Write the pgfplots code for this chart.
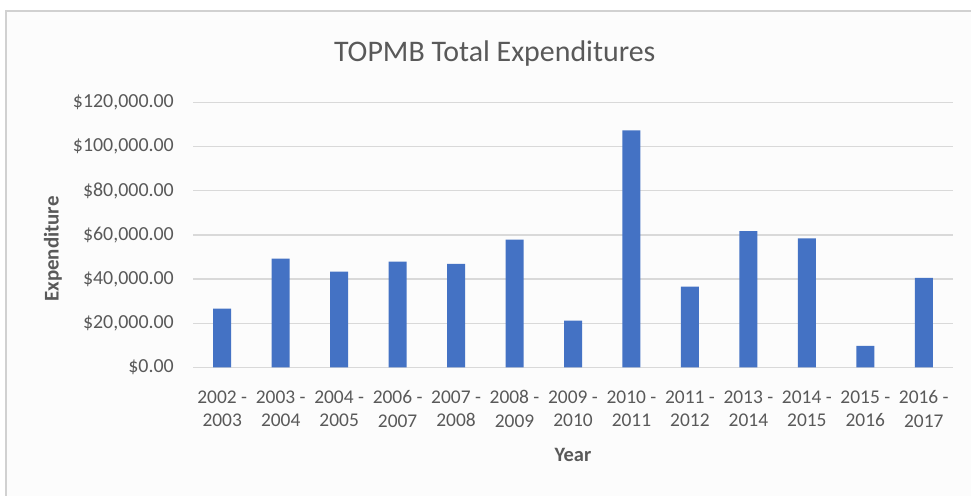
\documentclass[border=0pt]{standalone}
\usepackage{pgfplots}
\pgfplotsset{compat=1.18}
\usepackage{fontspec}
\setmainfont{Carlito}
\definecolor{barblue}{HTML}{4472C4}
\definecolor{txt}{HTML}{595959}
\definecolor{gridc}{HTML}{D9D9D9}
\begin{document}
\begin{tikzpicture}[x=1bp,y=1bp]
\useasboundingbox (0,0) rectangle (971,496);
\fill[white] (0,0) rectangle (971,496);
\filldraw[fill=black!1, draw=black!18, line width=1.5bp] (6,-20) rectangle (1000,485);
\begin{axis}[
  at={(193bp,128.7bp)}, anchor=south west,
  scale only axis, width=760bp, height=264.6bp,
  ymin=0, ymax=120000, xmin=-0.5, xmax=12.5,
  ybar, bar width=18bp,
  axis line style={draw=none},
  tick style={draw=none},
  major tick length=0pt,
  ymajorgrids, grid style={gridc, line width=1.2bp},
  scaled y ticks=false,
  ytick={0,20000,40000,60000,80000,100000,120000},
  yticklabels={{\$0.00},{\$20,000.00},{\$40,000.00},{\$60,000.00},{\$80,000.00},{\$100,000.00},{\$120,000.00}},
  yticklabel style={inner sep=0pt, anchor=east, xshift=-19bp, text=txt, font=\fontsize{20}{24}\selectfont},
  xtick=data,
  xticklabels={{2002 -\\2003},{2003 -\\2004},{2004 -\\2005},{2006 -\\2007},{2007 -\\2008},{2008 -\\2009},{2009 -\\2010},{2010 -\\2011},{2011 -\\2012},{2013 -\\2014},{2014 -\\2015},{2015 -\\2016},{2016 -\\2017}},
  xticklabel style={inner sep=0pt, anchor=north, yshift=-23bp, align=center, text=txt, font=\fontsize{19.5}{23.5}\selectfont},
  title={TOPMB Total Expenditures},
  title style={at={(axis description cs:0.397,1.165)}, anchor=center, text=txt, font=\fontsize{30}{36}\selectfont},
  xlabel={Year},
  xlabel style={at={(axis description cs:0.5,-0.3314)}, anchor=center, text=txt, font=\bfseries\fontsize{20.5}{24}\selectfont},
  ylabel={Expenditure},
  ylabel style={at={(axis description cs:-0.1842,0.447)}, anchor=center, text=txt, font=\bfseries\fontsize{21}{25}\selectfont},
]
\addplot[fill=barblue, draw=none] coordinates {
(0,26600) (1,49300) (2,43400) (3,47900) (4,46900) (5,57900) (6,21200)
(7,107500) (8,36600) (9,61800) (10,58500) (11,9700) (12,40500)
};
\end{axis}
\end{tikzpicture}
\end{document}
